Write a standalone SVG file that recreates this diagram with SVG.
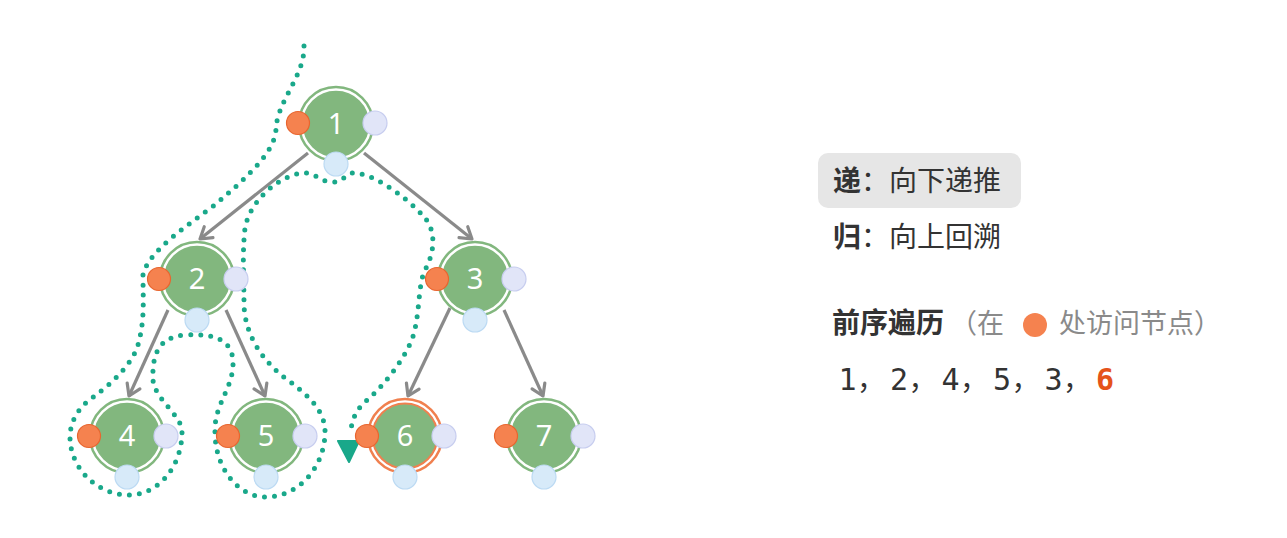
<svg xmlns="http://www.w3.org/2000/svg" width="1287" height="538" viewBox="0 0 1287 538">
<style>
.ring{fill:#ffffff;stroke:#82b77e;stroke-width:2.5}
.core{fill:#82b77e;stroke:#82b77e;stroke-width:1.5}
.ring-h{fill:#ffffff;stroke:#f0804f;stroke-width:2.5}
.core-h{fill:#82b77e;stroke:#f0804f;stroke-width:2}
.num{font-family:"Noto Sans","Liberation Sans",sans-serif;font-size:29px;fill:#ffffff;text-anchor:middle}
.pre{fill:#f5824f;stroke:#e8652f;stroke-width:1.2}
.inn{fill:#e1e5f8;stroke:#c7cdef;stroke-width:1.2}
.post{fill:#d7eaf9;stroke:#bcdaf3;stroke-width:1.2}
.edge{stroke:#8a8a8a;stroke-width:3.2;fill:none;marker-end:url(#arr)}
.trail{fill:none;stroke:#19a88a;stroke-width:5;stroke-linecap:round;stroke-dasharray:0 10}
.cjk{font-family:"Noto Sans CJK SC","Noto Sans",sans-serif;font-size:28px;fill:#333333}
.mono{font-family:"DejaVu Sans Mono","Liberation Mono",monospace;font-size:30px;fill:#333333;text-anchor:middle}
.hl{font-weight:bold;fill:#e5531a}
</style>
<defs>
<marker id="arr" markerUnits="userSpaceOnUse" viewBox="-14 -9 16 18" refX="0" refY="0" markerWidth="16" markerHeight="18" orient="auto">
<path d="M -11 -7 L 0 0 L -11 7" fill="none" stroke="#8a8a8a" stroke-width="3.2" stroke-linejoin="round" stroke-linecap="round"/>
</marker>
</defs>
<g id="connectors">
<line class="edge" x1="308" y1="153" x2="200" y2="239"/>
<line class="edge" x1="364" y1="153" x2="472" y2="239"/>
<line class="edge" x1="168" y1="310" x2="129" y2="396"/>
<line class="edge" x1="226" y1="310" x2="265" y2="396"/>
<line class="edge" x1="450" y1="308" x2="408" y2="396"/>
<line class="edge" x1="504" y1="310" x2="543" y2="396"/>
</g>
<g id="trail">
<path class="trail" d="M 304 46 C 305 75 278 100 276 128 C 276 150 250 175 217 203 C 192 223 148 250 143 275 C 143 300 145 320 138 345 C 132 365 110 385 92 398 C 78 408 70 422 70 437 C 70 470 100 497 132 495 C 160 493 182 465 182 432 C 182 415 155 400 153 380 C 152 355 158 337 185 335 C 215 333 234 340 233 365 C 232 390 214 405 215 432 C 215 470 240 497 265 497 C 300 497 326 465 325 430 C 324 408 305 393 285 378 C 262 360 245 335 244 305 C 244 280 242 255 245 228 C 250 200 280 175 303 173 C 315 172 322 183 333 182 C 344 182 346 172 355 173 C 375 174 410 200 425 218 C 435 230 436 250 425 270 C 418 285 420 310 414 333 C 408 355 385 385 365 402 C 356 410 352 420 351 430"/>
<polygon points="338,441 359,441 349,462" fill="#19a88a" stroke="#19a88a" stroke-width="2" stroke-linejoin="round"/>
</g>
<g id="node1">
<circle class="ring" cx="336" cy="124" r="37"/><circle class="core" cx="336" cy="124" r="32.5"/>
<text class="num" x="336" y="134">1</text>
<circle class="pre" cx="298" cy="123" r="11.5"/><circle class="inn" cx="375" cy="123" r="12"/><circle class="post" cx="336" cy="164" r="12"/>
</g>
<g id="node2">
<circle class="ring" cx="197" cy="279" r="37"/><circle class="core" cx="197" cy="279" r="32.5"/>
<text class="num" x="197" y="289">2</text>
<circle class="pre" cx="159" cy="279" r="11.5"/><circle class="inn" cx="236" cy="279" r="12"/><circle class="post" cx="197" cy="320" r="12"/>
</g>
<g id="node3">
<circle class="ring" cx="475" cy="279" r="37"/><circle class="core" cx="475" cy="279" r="32.5"/>
<text class="num" x="475" y="289">3</text>
<circle class="pre" cx="437" cy="279" r="11.5"/><circle class="inn" cx="514" cy="279" r="12"/><circle class="post" cx="475" cy="320" r="12"/>
</g>
<g id="node4">
<circle class="ring" cx="127" cy="436" r="37"/><circle class="core" cx="127" cy="436" r="32.5"/>
<text class="num" x="127" y="446">4</text>
<circle class="pre" cx="89" cy="436" r="11.5"/><circle class="inn" cx="166" cy="436" r="12"/><circle class="post" cx="127" cy="477" r="12"/>
</g>
<g id="node5">
<circle class="ring" cx="266" cy="436" r="37"/><circle class="core" cx="266" cy="436" r="32.5"/>
<text class="num" x="266" y="446">5</text>
<circle class="pre" cx="228" cy="436" r="11.5"/><circle class="inn" cx="305" cy="436" r="12"/><circle class="post" cx="266" cy="477" r="12"/>
</g>
<g id="node6">
<circle class="ring-h" cx="405" cy="436" r="37"/><circle class="core-h" cx="405" cy="436" r="32.5"/>
<text class="num" x="405" y="446">6</text>
<circle class="pre" cx="367" cy="436" r="11.5"/><circle class="inn" cx="444" cy="436" r="12"/><circle class="post" cx="405" cy="477" r="12"/>
</g>
<g id="node7">
<circle class="ring" cx="544" cy="436" r="37"/><circle class="core" cx="544" cy="436" r="32.5"/>
<text class="num" x="544" y="446">7</text>
<circle class="pre" cx="506" cy="436" r="11.5"/><circle class="inn" cx="583" cy="436" r="12"/><circle class="post" cx="544" cy="477" r="12"/>
</g>
<g id="legend">
<rect x="818" y="153" width="203" height="55" rx="10" fill="#e6e6e6"/>
<text class="cjk" x="833" y="191"><tspan font-weight="bold">递</tspan>：向下递推</text>
<text class="cjk" x="833" y="247"><tspan font-weight="bold">归</tspan>：向上回溯</text>
<text class="cjk" x="832" y="333" font-size="27" font-weight="bold">前序遍历</text>
<text class="cjk" x="950" y="333" style="font-size:27px;fill:#8a8a8a">（在</text>
<circle cx="1035" cy="325" r="12" fill="#f5824f"/>
<text class="cjk" x="1059" y="333" style="font-size:27px;fill:#8a8a8a">处访问节点）</text>
</g>
<g id="sequence">
<text class="mono" x="847.5" y="390">1</text>
<text class="cjk" x="857" y="390">，</text>
<text class="mono" x="899" y="390">2</text>
<text class="cjk" x="908.5" y="390">，</text>
<text class="mono" x="950.5" y="390">4</text>
<text class="cjk" x="960" y="390">，</text>
<text class="mono" x="1002" y="390">5</text>
<text class="cjk" x="1011.5" y="390">，</text>
<text class="mono" x="1053.5" y="390">3</text>
<text class="cjk" x="1063" y="390">，</text>
<text class="mono hl" x="1105" y="390">6</text>
</g>
</svg>
